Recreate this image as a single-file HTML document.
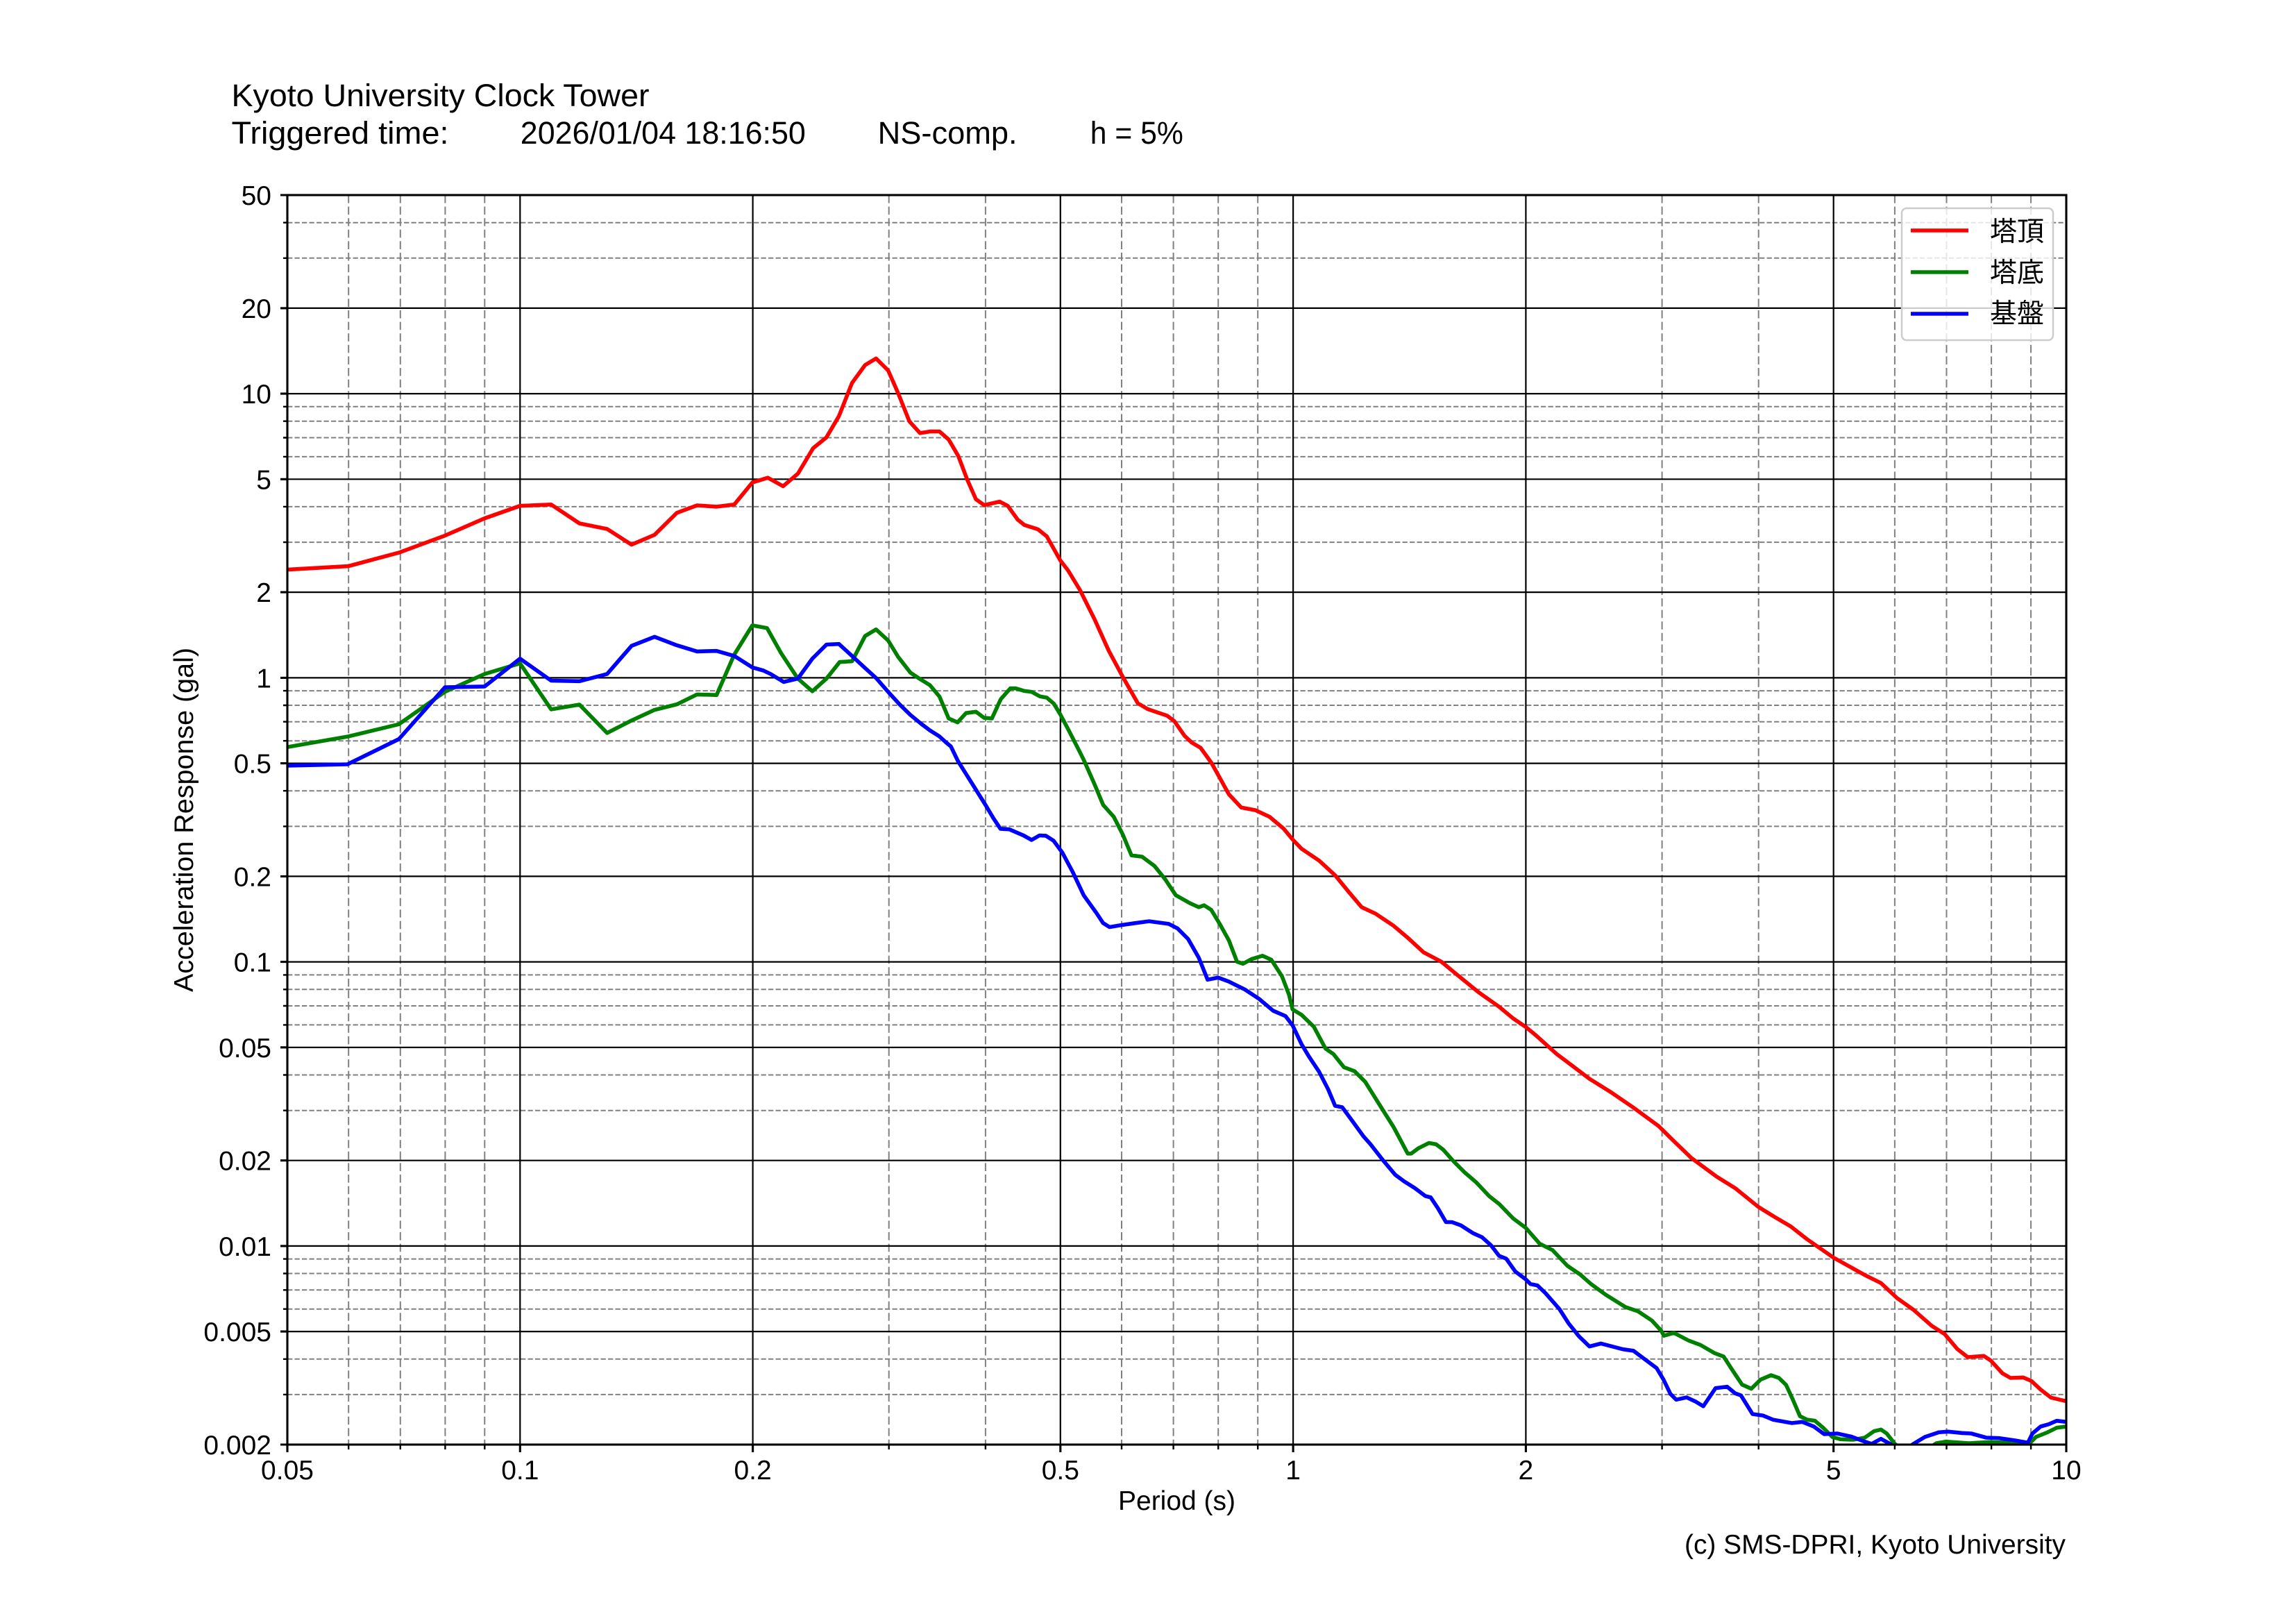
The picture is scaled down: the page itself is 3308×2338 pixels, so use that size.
<!DOCTYPE html>
<html>
<head>
<meta charset="utf-8">
<style>
html,body{margin:0;padding:0;background:#ffffff;}
svg{display:block;}
</style>
</head>
<body>
<svg width="3308" height="2338" viewBox="0 0 3308 2338" xmlns="http://www.w3.org/2000/svg" font-family="'Liberation Sans','Noto Sans CJK JP',sans-serif">
<rect x="0" y="0" width="3308" height="2338" fill="#ffffff"/>

<!-- Title -->
<g font-size="45" fill="#000">
<text x="333.5" y="153" textLength="602" lengthAdjust="spacingAndGlyphs">Kyoto University Clock Tower</text>
<text x="333.5" y="207" textLength="313" lengthAdjust="spacingAndGlyphs">Triggered time:</text>
<text x="749.8" y="207" textLength="411" lengthAdjust="spacingAndGlyphs">2026/01/04 18:16:50</text>
<text x="1264.6" y="207" textLength="201" lengthAdjust="spacingAndGlyphs">NS-comp.</text>
<text x="1570.8" y="207" textLength="134" lengthAdjust="spacingAndGlyphs">h = 5%</text>
</g>

<defs>
<clipPath id="plotclip"><rect x="414" y="281" width="2563" height="1800"/></clipPath>
</defs>

<!-- Minor grid: horizontal -->
<path fill="none" stroke="#808080" stroke-width="2" stroke-dasharray="7.3 3.2"
d="M414 320.7H2977M414 371.8H2977M414 585.8H2977M414 606.7H2977M414 630.5H2977M414 657.9H2977M414 729.9H2977M414 781.1H2977M414 995.1H2977M414 1016H2977M414 1039.7H2977M414 1067.2H2977M414 1139.2H2977M414 1190.4H2977M414 1404.4H2977M414 1425.3H2977M414 1449H2977M414 1476.4H2977M414 1548.5H2977M414 1599.7H2977M414 1813.6H2977M414 1834.5H2977M414 1858.3H2977M414 1885.7H2977M414 1957.8H2977M414 2008.9H2977"/>
<!-- Minor grid: vertical -->
<path fill="none" stroke="#808080" stroke-width="2" stroke-dasharray="11.6 5"
d="M502.2 281V2081M576.8 281V2081M641.4 281V2081M698.3 281V2081M1280.7 281V2081M1419.9 281V2081M1616 281V2081M1690.6 281V2081M1755.2 281V2081M1812.2 281V2081M2394.6 281V2081M2533.7 281V2081M2729.9 281V2081M2804.5 281V2081M2869.1 281V2081M2926.1 281V2081"/>

<!-- Major grid -->
<path fill="none" stroke="#000" stroke-width="2.2"
d="M414 443.9H2977M414 567.1H2977M414 690.3H2977M414 853.1H2977M414 976.4H2977M414 1099.6H2977M414 1262.4H2977M414 1385.6H2977M414 1508.8H2977M414 1671.7H2977M414 1794.9H2977M414 1918.1H2977M749.3 281V2081M1084.6 281V2081M1527.8 281V2081M1863.1 281V2081M2198.4 281V2081M2641.7 281V2081"/>

<!-- Curves -->
<g clip-path="url(#plotclip)" fill="none" stroke-width="5.6" stroke-linejoin="round" stroke-linecap="square">
<polyline stroke="#ff0000" points="414,820.6 501.8,815.6 574.7,796.1 641,771.6 698.2,746.7 749.2,728.7 794.1,726.8 834.9,754 874.7,762 909.9,784.6 943.1,770.4 975.2,738.7 1004.3,728 1032.4,729.9 1057.9,726.8 1083.9,695.1 1106.3,688.2 1128.3,700.4 1149.6,682.3 1171.5,645.7 1190.6,630.2 1208.7,599.4 1227.6,551.6 1246.4,525.9 1262.2,516.4 1279.6,533.6 1293.9,566.1 1310.2,607 1325.5,623.9 1339.8,621.6 1353.6,621.6 1366.8,633.1 1380.6,656.8 1393.4,690.5 1406.1,719.2 1417.9,727.6 1440.3,722.6 1452,728.7 1466.3,748.6 1476,756.3 1495.4,762.4 1508.2,772.7 1527.6,807.2 1538.8,821.7 1555.6,849.3 1577,892.1 1597.4,937.3 1617.9,975.5 1639.3,1013 1653.6,1021.5 1681.6,1031 1691.8,1038.7 1706.7,1060 1716.9,1069.6 1729.7,1077.2 1745,1098.3 1757.8,1121.2 1770.5,1144.2 1788.4,1163.3 1808.8,1167.1 1829.2,1176.7 1849.6,1193.9 1862.3,1209.2 1875.1,1222.6 1900.6,1239.8 1923.6,1260.9 1944,1285.8 1961.8,1306.8 1982.2,1316.4 2007.8,1333.6 2028.2,1350.8 2051.1,1371.9 2076.6,1385.3 2099.6,1404.4 2130.2,1429.3 2160,1450.4 2180,1467 2198.3,1479.4 2213.3,1491.8 2243.3,1518.8 2260,1531.2 2290,1554 2320,1572.7 2353.3,1595.5 2390,1622.4 2406.7,1639 2436.7,1668 2473.3,1695 2500,1711.6 2533.3,1738.5 2556.7,1753 2580,1766.7 2603.3,1785 2641.7,1811.7 2686.7,1836.7 2710,1848.3 2733.3,1870 2756.7,1886.7 2783.3,1910 2801.7,1921.7 2820,1943.3 2835,1955 2858.3,1953.3 2868.3,1960 2885,1978.3 2896.7,1985 2915,1984.3 2926.7,1989.3 2940,2001.7 2955,2013.3 2977,2018.5"/>
<polyline stroke="#008000" points="414,1076.2 501.8,1060.9 574.7,1043.3 641,996.6 698.2,970.9 749.2,955.6 794.1,1021.9 834.9,1015 874.7,1055.9 909.9,1037.9 943.1,1022.6 975.2,1014.6 1004.3,1000.4 1032.4,1001.2 1057.9,943 1083.9,900.9 1105.1,904.7 1125.5,941.1 1149.5,977.5 1170.4,995.8 1190.8,977.5 1209.7,953.7 1227.6,952.6 1246.4,916.2 1262.2,906.7 1279.6,922.7 1293.9,946.1 1311.7,969 1324.5,977.5 1339.8,987 1353.6,1003.5 1366.8,1034.9 1379.6,1040.6 1391.8,1027.2 1406.1,1025.3 1417.9,1034.1 1429.1,1034.9 1441.8,1007.3 1455.6,991.6 1463.3,991.6 1476,995.4 1486.2,996.6 1498,1003.1 1508.2,1005 1518.4,1013.8 1527.6,1029.1 1538.8,1050.2 1554.1,1080 1561.3,1094.4 1576.6,1128.9 1589.4,1159.5 1604.7,1176.7 1617.4,1201.6 1630.2,1232.2 1645.5,1234.1 1663.4,1247.5 1678.7,1266.6 1694,1289.6 1714.4,1301.1 1727.1,1306.8 1734.8,1304.1 1745,1310.6 1757.8,1331.7 1770.5,1354.6 1782.2,1385.3 1790.9,1388.3 1803.7,1381.4 1819,1376.8 1831.7,1382.6 1847,1406.3 1857.2,1433.1 1862.3,1454.1 1875.1,1461.8 1892.9,1479 1900.6,1493.4 1909.8,1510.6 1921,1518.3 1936.3,1537.4 1951.6,1543.1 1966.9,1558.4 1987.3,1591 2007.8,1623.5 2028.2,1661.8 2033.3,1661.8 2043.5,1654.1 2058.8,1646.5 2069,1648.4 2079.2,1656 2094.5,1673.2 2109.8,1688.5 2127.6,1703.9 2145.5,1723 2160,1734.4 2180,1755.1 2198.3,1768.8 2218.3,1791.6 2236.7,1800.7 2258.3,1823.5 2276.7,1836 2291.7,1849.2 2313.3,1865 2341.7,1882.8 2360,1889 2380,1902.3 2393.3,1916.8 2397.3,1924.2 2411.7,1920.1 2433.3,1931.3 2450,1937.5 2470,1949.1 2483.3,1954.1 2496.7,1974.8 2510,1994.7 2523.3,2000.5 2536.7,1987.3 2551.7,1981 2563,1985 2573.3,1995 2583.3,2016.7 2593.3,2040 2603.3,2045 2615,2046.7 2626.7,2056.7 2640,2070 2651.7,2073.3 2670,2074 2686.7,2071 2700,2061.7 2710,2059.3 2718.3,2065 2730,2080 2745,2092 2770,2092 2790,2079 2803.3,2076.7 2836.7,2079 2866.7,2077.3 2893.3,2078.3 2923.3,2080 2933.3,2070 2950,2063.3 2963.3,2056.7 2977,2055"/>
<polyline stroke="#0000ff" points="414,1103 500.6,1101 574.7,1064.7 641,990.1 698.2,988.9 749.2,948.8 794.1,980.5 834.9,981.3 874.7,970.9 909.9,930.4 943.1,917.4 975.2,929.6 1004.3,938.4 1032.4,937.7 1057.9,944.9 1083.9,961.4 1100,966 1110.2,970.9 1129.1,982.4 1149.5,977.5 1170.4,948.8 1190.8,928.5 1208.7,927.7 1227.6,944.9 1245.4,961.4 1262.2,976.7 1279.6,996.6 1296.4,1015 1311.7,1029.9 1327,1042.5 1339.8,1052.1 1353.6,1060.9 1362.8,1069.3 1370,1075.3 1380.2,1096.4 1400.6,1128.9 1421,1161.4 1431.2,1178.6 1441.4,1193.9 1454.2,1194.7 1474.6,1203.5 1486.3,1210 1497.6,1203.5 1506.7,1203.9 1518,1211.1 1530.7,1228.4 1546,1257.1 1561.3,1289.6 1579.2,1314.5 1589.4,1329.8 1598.6,1335.5 1614.9,1332.8 1635.3,1329.8 1655.7,1327.1 1683.8,1330.9 1696.5,1337.4 1711.8,1352.7 1727.1,1379.5 1739.9,1411.3 1755.2,1408.2 1770.5,1414 1793.5,1425.4 1813.9,1438.8 1834.3,1456 1852.1,1463.7 1862.3,1477.1 1875.1,1503.9 1885.3,1521.1 1900.6,1544.1 1913.4,1568.9 1923.6,1593 1933.8,1595 1949.1,1615.8 1964.4,1636.9 1974.6,1648.4 1992.5,1671.3 2010.3,1692.4 2023.1,1701.9 2038.4,1711.5 2053.7,1723 2061.3,1724.9 2071.5,1740.2 2083.3,1760.5 2091.9,1760.5 2104.7,1765.1 2122.6,1776.6 2135.3,1782.3 2148.1,1793.8 2159.8,1809.1 2170,1813.1 2183.3,1831.8 2198.3,1843 2205,1849.6 2215,1851.7 2226.7,1862.9 2246.7,1885.7 2260,1906.4 2275,1925.1 2290,1939.6 2306.7,1935.4 2338.3,1943.7 2353.3,1945.8 2370,1958.2 2386.7,1970.7 2396.7,1987.3 2406.7,2008 2415,2016.3 2430,2013 2443.3,2019.2 2454,2025.8 2471.7,1999.7 2488.3,1997.6 2500,2007.2 2508.3,2010.1 2525,2037 2540,2039.1 2555,2045.3 2581.7,2050 2596.7,2048.3 2613.3,2055 2628.3,2066 2646.7,2065 2666.7,2069.3 2686.7,2076.7 2696.7,2080 2710,2072.7 2723.3,2080 2740,2092 2756.7,2080 2773.3,2070 2793.3,2063.3 2806.7,2062.3 2826.7,2064.3 2840,2065 2861.7,2071 2880,2071.7 2903.3,2075 2921.7,2078.3 2928.3,2065 2940,2055 2951.7,2051.7 2963.3,2046.7 2977,2048.3"/>
</g>

<!-- Spines -->
<rect x="414" y="281" width="2563" height="1800" fill="none" stroke="#000" stroke-width="3.1"/>

<!-- Major ticks -->
<path fill="none" stroke="#000" stroke-width="3.1"
d="M404 281H414M404 443.9H414M404 567.1H414M404 690.3H414M404 853.1H414M404 976.4H414M404 1099.6H414M404 1262.4H414M404 1385.6H414M404 1508.8H414M404 1671.7H414M404 1794.9H414M404 1918.1H414M404 2081H414M414 2081V2092M749.3 2081V2092M1084.6 2081V2092M1527.8 2081V2092M1863.1 2081V2092M2198.4 2081V2092M2641.7 2081V2092M2977 2081V2092"/>
<!-- Minor ticks -->
<path fill="none" stroke="#000" stroke-width="2.4"
d="M408 320.7H414M408 371.8H414M408 585.8H414M408 606.7H414M408 630.5H414M408 657.9H414M408 729.9H414M408 781.1H414M408 995.1H414M408 1016H414M408 1039.7H414M408 1067.2H414M408 1139.2H414M408 1190.4H414M408 1404.4H414M408 1425.3H414M408 1449H414M408 1476.4H414M408 1548.5H414M408 1599.7H414M408 1813.6H414M408 1834.5H414M408 1858.3H414M408 1885.7H414M408 1957.8H414M408 2008.9H414M502.2 2081V2088M576.8 2081V2088M641.4 2081V2088M698.3 2081V2088M1280.7 2081V2088M1419.9 2081V2088M1616 2081V2088M1690.6 2081V2088M1755.2 2081V2088M1812.2 2081V2088M2394.6 2081V2088M2533.7 2081V2088M2729.9 2081V2088M2804.5 2081V2088M2869.1 2081V2088M2926.1 2081V2088"/>

<!-- Y tick labels -->
<g font-size="39" fill="#000" text-anchor="end">
<text x="391" y="295">50</text>
<text x="391" y="457.9">20</text>
<text x="391" y="581.1">10</text>
<text x="391" y="704.3">5</text>
<text x="391" y="867.1">2</text>
<text x="391" y="990.4">1</text>
<text x="391" y="1113.6">0.5</text>
<text x="391" y="1276.4">0.2</text>
<text x="391" y="1399.6">0.1</text>
<text x="391" y="1522.8">0.05</text>
<text x="391" y="1685.7">0.02</text>
<text x="391" y="1808.9">0.01</text>
<text x="391" y="1932.1">0.005</text>
<text x="391" y="2095">0.002</text>
</g>

<!-- X tick labels -->
<g font-size="39" fill="#000" text-anchor="middle">
<text x="414" y="2131">0.05</text>
<text x="749.3" y="2131">0.1</text>
<text x="1084.6" y="2131">0.2</text>
<text x="1527.8" y="2131">0.5</text>
<text x="1863.1" y="2131">1</text>
<text x="2198.4" y="2131">2</text>
<text x="2641.7" y="2131">5</text>
<text x="2977" y="2131">10</text>
</g>

<!-- Axis labels -->
<text x="1695.5" y="2175" font-size="39" text-anchor="middle" textLength="169" lengthAdjust="spacingAndGlyphs">Period (s)</text>
<text transform="translate(278,1181) rotate(-90)" x="0" y="0" font-size="39" text-anchor="middle" textLength="496" lengthAdjust="spacingAndGlyphs">Acceleration Response (gal)</text>

<!-- Copyright -->
<text x="2976" y="2238" font-size="39" text-anchor="end" textLength="549" lengthAdjust="spacingAndGlyphs">(c) SMS-DPRI, Kyoto University</text>

<!-- Legend -->
<rect x="2740" y="300" width="218" height="190" rx="7" ry="7" fill="#ffffff" fill-opacity="0.8" stroke="#cccccc" stroke-width="2.5"/>
<line x1="2753" y1="332" x2="2836" y2="332" stroke="#ff0000" stroke-width="5.6"/>
<line x1="2753" y1="392" x2="2836" y2="392" stroke="#008000" stroke-width="5.6"/>
<line x1="2753" y1="452" x2="2836" y2="452" stroke="#0000ff" stroke-width="5.6"/>
<g font-size="39" fill="#000" font-family="'Liberation Sans','Noto Sans CJK JP',sans-serif">
<text x="2867" y="347">塔頂</text>
<text x="2867" y="406">塔底</text>
<text x="2867" y="465">基盤</text>
</g>
</svg>
</body>
</html>
